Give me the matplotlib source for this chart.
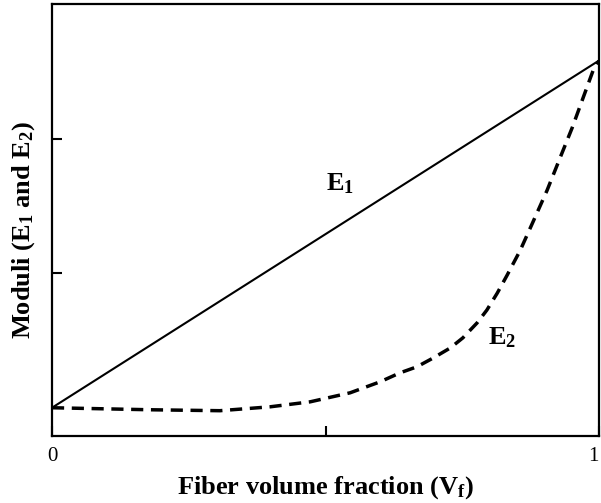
import matplotlib
matplotlib.use('Agg')
import matplotlib.pyplot as plt

# fiber volume fraction and moduli (arbitrary units)
vf_e1 = [0.0, 1.0]
e1 = [1.0, 3.58]

vf_e2 = [0.0, 0.179, 0.307, 0.399, 0.472, 0.545, 0.600, 0.636, 0.667,
         0.697, 0.728, 0.751, 0.777, 0.795, 0.814, 0.832, 0.856, 0.879,
         0.905, 0.929, 0.951, 0.971, 0.989, 1.0]
e2 = [1.0, 0.985, 0.978, 1.007, 1.044, 1.111, 1.193, 1.259, 1.304,
      1.370, 1.444, 1.519, 1.630, 1.726, 1.852, 1.985, 2.170, 2.378,
      2.615, 2.859, 3.081, 3.304, 3.504, 3.578]

x_ticks = [0, 0.5, 1]
x_tick_labels = ['0', '', '1']
y_ticks = [2, 3]

plt.rcParams['font.family'] = ['Liberation Serif', 'DejaVu Serif']
plt.rcParams['mathtext.fontset'] = 'custom'
plt.rcParams['mathtext.bf'] = 'Liberation Serif:bold'
plt.rcParams['mathtext.rm'] = 'Liberation Serif'
plt.rcParams['mathtext.it'] = 'Liberation Serif:italic'

fig = plt.figure(figsize=(6.01, 5.03), dpi=100)
ax = fig.add_axes([0.0865, 0.1332, 0.9102, 0.8588])

ax.plot(vf_e1, e1, color='black', linewidth=1.5, solid_capstyle='butt')
ax.plot(vf_e2, e2, color='black', linewidth=2.5, dashes=(3.5, 2.2))

ax.text(0.527, 2.667, r'E$_\mathbf{1}$', fontsize=19, fontweight='bold',
        ha='center', va='center')
ax.text(0.823, 1.52, r'E$_\mathbf{2}$', fontsize=19, fontweight='bold',
        ha='center', va='center')

ax.set_xlim(0, 1)
ax.set_ylim(0.79, 4.0)
ax.set_xticks(x_ticks)
ax.set_xticklabels(x_tick_labels, fontsize=15)
ax.get_xticklabels()[-1].set_horizontalalignment('right')
ax.set_yticks(y_ticks)
ax.set_yticklabels([])
ax.tick_params(axis='both', direction='in', length=7, width=1.5, pad=8)

for s in ax.spines.values():
    s.set_linewidth(1.6)

ax.set_xlabel(r'Fiber volume fraction (V$_\mathbf{f}$)', fontsize=19,
              fontweight='bold', labelpad=6)
ax.set_ylabel(r'Moduli (E$_\mathbf{1}$ and E$_\mathbf{2}$)', fontsize=19,
              fontweight='bold')
ax.yaxis.set_label_coords(-0.028, 0.477)

fig.savefig('out.png', dpi=100)
